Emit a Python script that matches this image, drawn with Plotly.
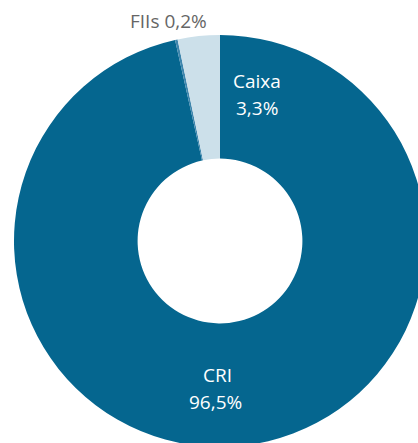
import plotly.graph_objects as go

labels = ["CRI", "FIIs", "Caixa"]
values = [96.5, 0.2, 3.3]
colors = ["#05668F", "#3F86AD", "#CCE0EA"]

W, H = 440, 482
cx, cy, r = 220, 241, 206

fig = go.Figure(go.Pie(
    labels=labels, values=values, sort=False, direction="clockwise",
    rotation=0, hole=0.40, textinfo="none", hoverinfo="label+percent",
    marker=dict(colors=colors, line=dict(width=0)),
    domain=dict(x=[0, 1], y=[1 - (cy + r) / H, 1 - (cy - r) / H]),
    showlegend=False,
))

font = "Open Sans, Noto Sans, sans-serif"
def ann(text, x, y, color):
    fig.add_annotation(text=text, x=x / W, y=1 - y / H, xref="paper", yref="paper",
                       showarrow=False, xanchor="center", yanchor="middle",
                       font=dict(family=font, size=19, color=color))

ann("Caixa", 257, 81, "white")
ann("3,3%", 257, 108, "white")
ann("FIIs 0,2%", 168, 21, "#666666")
ann("CRI", 217, 375, "white")
ann("96,5%", 215, 402, "white")

fig.update_layout(width=W, height=H, margin=dict(l=0, r=0, t=0, b=0),
                  paper_bgcolor="white", plot_bgcolor="white")
fig.write_html("out.html", config={"displayModeBar": False},
               post_script="document.body.style.margin='0';document.body.style.overflow='hidden';document.documentElement.style.overflow='hidden';")
